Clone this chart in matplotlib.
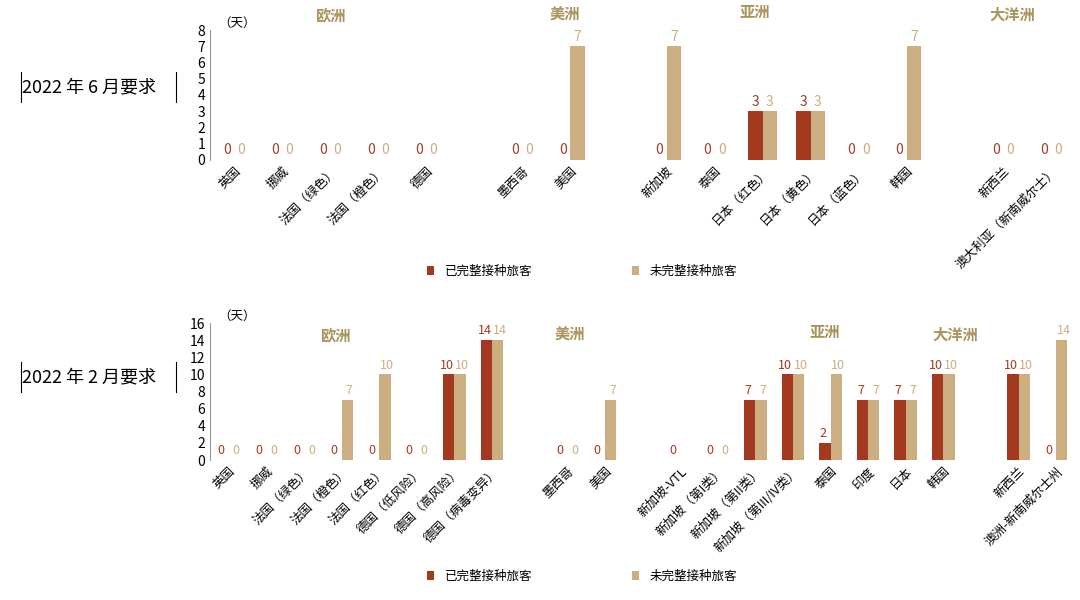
import numpy as np
import matplotlib.pyplot as plt

plt.rcParams['font.family'] = ['Noto Sans CJK SC', 'DejaVu Sans']

RED = '#A33A1F'
TAN = '#CDAE80'
GOLD = '#A8935A'

# 2022年6月 (None = empty slot)
jun_cats = ['英国', '挪威', '法国（绿色）', '法国（橙色）', '德国', None,
            '墨西哥', '美国', None,
            '新加坡', '泰国', '日本（红色）', '日本（黄色）', '日本（蓝色）', '韩国', None,
            '新西兰', '澳大利亚（新南威尔士）']
jun_done = [0, 0, 0, 0, 0, None, 0, 0, None, 0, 0, 3, 3, 0, 0, None, 0, 0]
jun_undone = [0, 0, 0, 0, 0, None, 0, 7, None, 7, 0, 3, 3, 0, 7, None, 0, 0]

# 2022年2月
feb_cats = ['英国', '挪威', '法国（绿色）', '法国（橙色）', '法国（红色）', '德国（低风险）',
            '德国（高风险）', '德国（病毒变异）', None,
            '墨西哥', '美国', None,
            '新加坡-VTL', '新加坡（第I类）', '新加坡（第II类）', '新加坡（第III/IV类）',
            '泰国', '印度', '日本', '韩国', None,
            '新西兰', '澳洲-新南威尔士州']
feb_done = [0, 0, 0, 0, 0, 0, 10, 14, None, 0, 0, None,
            0, 0, 7, 10, 2, 7, 7, 10, None, 10, 0]
feb_undone = [0, 0, 0, 7, 10, 0, 10, 14, None, 0, 7, None,
              None, 0, 7, 10, 10, 7, 7, 10, None, 10, 14]

fig = plt.figure(figsize=(10.8, 6.0), dpi=100)


def draw(ax, cats, done, undone, ymax, step, lsize, spread):
    w = 0.3
    n = len(cats)
    for i in range(n):
        if cats[i] is None:
            continue
        for val, off, col, s in ((done[i], -w / 2, RED, -spread), (undone[i], w / 2, TAN, spread)):
            if val is None:
                continue
            ax.bar(i + off, val, w, color=col)
            ax.text(i + off + s, val + ymax * 0.02, str(val), ha='center', va='bottom',
                    color=col, fontsize=lsize)
    idx = [i for i in range(n) if cats[i] is not None]
    ax.set_xticks(idx)
    ax.set_xticklabels([cats[i] for i in idx], rotation=45, ha='right',
                       rotation_mode='anchor', fontsize=9)
    ax.tick_params(axis='x', length=0)
    ax.set_xlim(-0.5, n - 0.5)
    ax.set_ylim(0, ymax)
    ax.set_yticks(np.arange(0, ymax + 1, step))
    ax.tick_params(axis='y', labelsize=10, length=0)
    for s in ('top', 'right', 'bottom'):
        ax.spines[s].set_visible(False)
    ax.spines['left'].set_color('#999999')
    ax.text(0.01, 1.0, '（天）', transform=ax.transAxes, fontsize=9, va='bottom')
    ax.bar(0, 0, color=RED, label='已完整接种旅客')
    ax.bar(0, 0, color=TAN, label='未完整接种旅客')


ax1 = fig.add_axes([210 / 1080, 1 - 160 / 600, 865 / 1080, 130 / 600])
draw(ax1, jun_cats, jun_done, jun_undone, 8, 1, 10, 0)
ax1.legend(loc='upper center', bbox_to_anchor=(0.43, -0.72), ncol=2, frameon=False,
           fontsize=9, handlelength=0.6, columnspacing=8)

ax2 = fig.add_axes([210 / 1080, 1 - 460 / 600, 865 / 1080, 137 / 600])
draw(ax2, feb_cats, feb_done, feb_undone, 16, 2, 9, 0.05)
ax2.legend(loc='upper center', bbox_to_anchor=(0.43, -0.72), ncol=2, frameon=False,
           fontsize=9, handlelength=0.6, columnspacing=8)

for x, y, t in [(330, 15, '欧洲'), (565, 15, '美洲'), (755, 12, '亚洲'), (1012, 15, '大洋洲'),
                (335, 335, '欧洲'), (570, 335, '美洲'), (825, 332, '亚洲'), (955, 335, '大洋洲')]:
    fig.text(x / 1080, 1 - y / 600, t, ha='center', va='center', color=GOLD,
             fontsize=11, fontweight='bold')

for y, t in [(87, '2022 年 6 月要求'), (377, '2022 年 2 月要求')]:
    fig.text(22 / 1080, 1 - y / 600, t, ha='left', va='center', fontsize=13)
    fig.add_artist(plt.Line2D([21 / 1080] * 2, [1 - (y - 15) / 600, 1 - (y + 15) / 600],
                              color='black', lw=0.8))
    fig.add_artist(plt.Line2D([176 / 1080] * 2, [1 - (y - 15) / 600, 1 - (y + 15) / 600],
                              color='black', lw=0.8))

fig.savefig('out.png', dpi=100)
